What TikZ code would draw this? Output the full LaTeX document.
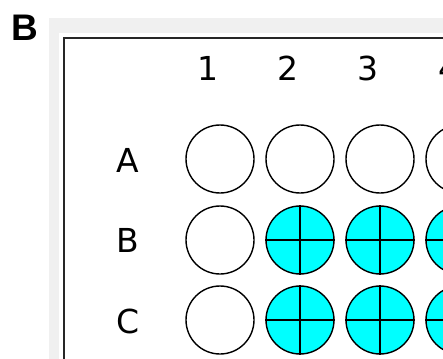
\documentclass[tikz,border=0pt]{standalone}
\usepackage{fontspec}
\setmainfont{DejaVu Sans}
\newfontfamily\panelfont{Liberation Sans}
\definecolor{wellcyan}{RGB}{0,255,255}
\definecolor{panelgrey}{RGB}{240,240,240}
\begin{document}
\begin{tikzpicture}[x=1pt,y=-1pt,
  well/.style={circle,draw=black,line width=1.4pt,minimum size=68pt,inner sep=0pt,fill=white},
  filled/.style={well,fill=wellcyan},
  lbl/.style={inner sep=0pt,font=\fontsize{33}{33}\selectfont},
  crossline/.style={line width=1.6pt}]
\useasboundingbox (0,0) rectangle (443,358);
\clip (0,0) rectangle (443,358);
\fill[white] (0,0) rectangle (443,358);
\fill[panelgrey] (49,18) rectangle (460,370);
\fill[white] (59,33) rectangle (460,370);
\coordinate (fb) at (64,370);
\coordinate (fc) at (64,38);
\coordinate (fr) at (460,38);
\draw[line width=2pt,black!85] (fb) -- (fc) -- (fr);
\node[inner sep=0pt,font=\panelfont\bfseries\fontsize{37}{37}\selectfont] (panel) at (25,28) {B};
% column labels
\node[lbl] (c1) at (208,68) {1};
\node[lbl] (c2) at (288,68) {2};
\node[lbl] (c3) at (368,68) {3};
\node[lbl] (c4) at (449,68) {4};
% row labels
\node[lbl] (rA) at (128,160) {A};
\node[lbl] (rB) at (128,240) {B};
\node[lbl] (rC) at (128,321) {C};
% wells
\foreach \r/\y in {A/159,B/240,C/320}{
  \node[well] (w\r1) at (220,\y) {};
}
\node[well] (wA2) at (300,159) {};
\node[well] (wA3) at (380,159) {};
\node[well] (wA4) at (460,159) {};
\foreach \r/\y in {B/240,C/320}{
  \foreach \c/\x in {2/300,3/380,4/460}{
    \node[filled] (w\r\c) at (\x,\y) {};
    \draw[crossline] (w\r\c.north) -- (w\r\c.south);
    \draw[crossline] (w\r\c.west) -- (w\r\c.east);
  }
}
\end{tikzpicture}
\end{document}
